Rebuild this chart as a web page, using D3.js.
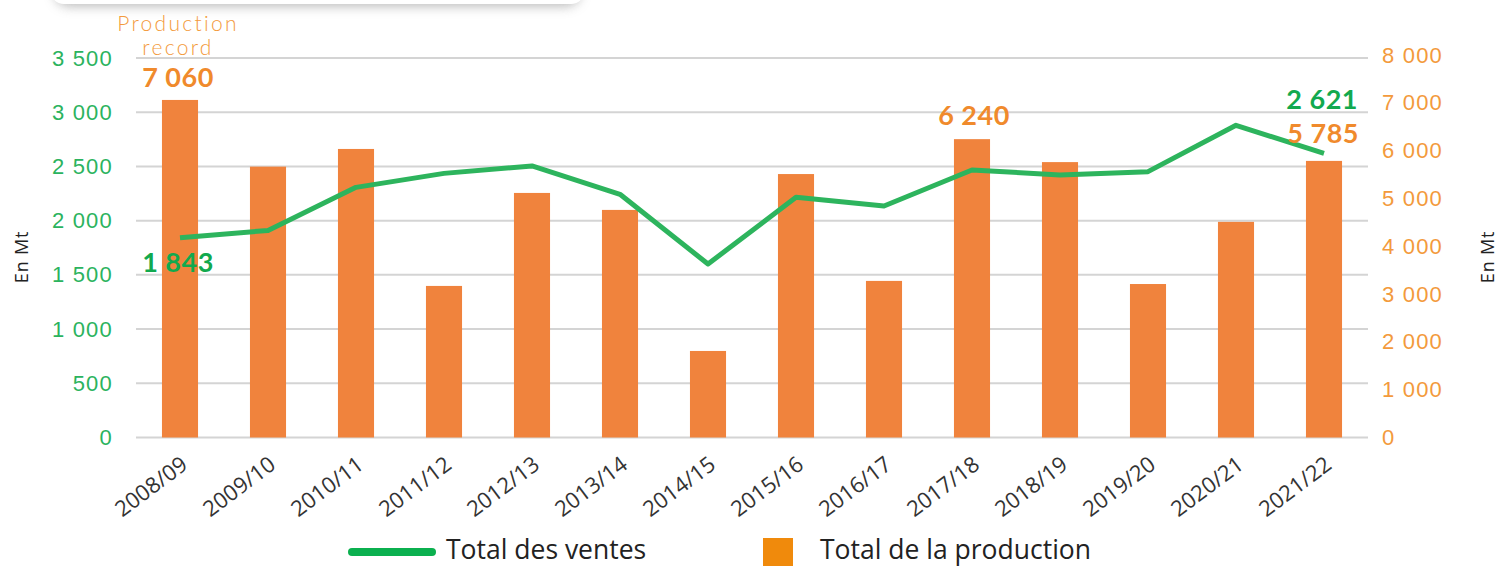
<!DOCTYPE html>
<html>
<head>
<meta charset="utf-8">
<script src="https://cdn.jsdelivr.net/npm/d3@7"></script>
<style>
  body { margin: 0; background: #fff; overflow: hidden; }
  svg { display: block; font-family: Lato, "Open Sans", sans-serif; }
</style>
</head>
<body>
<div id="chart"></div>
<script>
// données (en Mt)
const campagnes = ["2008/09", "2009/10", "2010/11", "2011/12", "2012/13", "2013/14", "2014/15",
  "2015/16", "2016/17", "2017/18", "2018/19", "2019/20", "2020/21", "2021/22"];
const production = [7060, 5665, 6035, 3170, 5115, 4760, 1810, 5510, 3275, 6240, 5760, 3210, 4510, 5785];
const ventes = [1843, 1910, 2307, 2436, 2504, 2243, 1600, 2215, 2135, 2467, 2421, 2452, 2879, 2621];
const ticksGauche = [0, 500, 1000, 1500, 2000, 2500, 3000, 3500];
const ticksDroite = [0, 1000, 2000, 3000, 4000, 5000, 6000, 7000, 8000];

const W = 1499, H = 566;
const vert = "#2bb35e", orange = "#f0833d", orangeTxt = "#f39a3c";
const fmt = v => d3.format(",")(v).replace(/,/g, " ");

const svg = d3.select("#chart").append("svg")
  .attr("width", W).attr("height", H);

// ombre de la boite en haut
const defs = svg.append("defs");
const f = defs.append("filter").attr("id", "ombre").attr("x", "-20%").attr("y", "-50%").attr("width", "140%").attr("height", "300%");
f.append("feGaussianBlur").attr("stdDeviation", 6);
svg.append("rect").attr("x", 55).attr("y", -40).attr("width", 525).attr("height", 46).attr("rx", 14)
  .attr("fill", "#999").attr("filter", "url(#ombre)").attr("opacity", 0.7);
svg.append("rect").attr("x", 50).attr("y", -40).attr("width", 535).attr("height", 44).attr("rx", 14)
  .attr("fill", "#fff");

const x = d3.scaleBand().domain(campagnes).range([136, 1368]).paddingInner(0.59).paddingOuter(0.295);
const yG = d3.scaleLinear().domain([0, 3500]).range([437.5, 58]);
const yD = d3.scaleLinear().domain([0, 8000]).range([437.5, 55]);

// grille
svg.append("g").selectAll("line").data(ticksGauche).join("line")
  .attr("x1", 136).attr("x2", 1368)
  .attr("y1", d => yG(d)).attr("y2", d => yG(d))
  .attr("stroke", "#d4d4d4").attr("stroke-width", 2);

// axe gauche
const axG = svg.append("g").attr("transform", "translate(123,0)")
  .call(d3.axisLeft(yG).tickValues(ticksGauche).tickSize(0).tickPadding(10).tickFormat(fmt));
axG.select(".domain").remove();
axG.selectAll("text").attr("fill", vert).attr("font-size", 22).attr("font-weight", 300)
  .attr("letter-spacing", 1.2);

// axe droit
const axD = svg.append("g").attr("transform", "translate(1372,0)")
  .call(d3.axisRight(yD).tickValues(ticksDroite).tickSize(0).tickPadding(10).tickFormat(fmt));
axD.select(".domain").remove();
axD.selectAll("text").attr("fill", orangeTxt).attr("font-size", 22).attr("font-weight", 300)
  .attr("letter-spacing", 1.2);

// axe des campagnes
const axX = svg.append("g").attr("transform", "translate(0,437.5)")
  .call(d3.axisBottom(x).tickSize(0).tickPadding(0));
axX.select(".domain").remove();
axX.selectAll("text")
  .attr("fill", "#333").attr("font-size", 22).attr("font-family", "'Open Sans', sans-serif")
  .attr("text-anchor", "end")
  .attr("y", 0).attr("dy", 0)
  .attr("transform", "translate(9,30) rotate(-37)");

// barres
svg.append("g").selectAll("rect").data(production).join("rect")
  .attr("x", (d, i) => x(campagnes[i]))
  .attr("width", x.bandwidth())
  .attr("y", d => yD(d))
  .attr("height", d => yD(0) - yD(d))
  .attr("fill", orange);

// courbe des ventes
const ligne = d3.line()
  .x((d, i) => x(campagnes[i]) + x.bandwidth() / 2)
  .y(d => yG(d));
svg.append("path").datum(ventes)
  .attr("d", ligne)
  .attr("fill", "none").attr("stroke", "#2db45d").attr("stroke-width", 5)
  .attr("stroke-linejoin", "round");

// titres des axes
svg.append("text").attr("transform", "translate(28,257) rotate(-90)")
  .attr("text-anchor", "middle").attr("font-size", 18).attr("letter-spacing", 0.8)
  .attr("font-family", "'Open Sans', sans-serif").attr("fill", "#222").text("En Mt");
svg.append("text").attr("transform", "translate(1494,257) rotate(-90)")
  .attr("text-anchor", "middle").attr("font-size", 18).attr("letter-spacing", 0.8)
  .attr("font-family", "'Open Sans', sans-serif").attr("fill", "#222").text("En Mt");

// annotations
const cx = i => x(campagnes[i]) + x.bandwidth() / 2;
svg.append("text").attr("x", cx(0) - 2).attr("y", 31).attr("text-anchor", "middle")
  .attr("font-size", 21).attr("font-weight", 300).attr("letter-spacing", 2.3)
  .attr("fill", orangeTxt).text("Production");
svg.append("text").attr("x", cx(0) - 2).attr("y", 55).attr("text-anchor", "middle")
  .attr("font-size", 21).attr("font-weight", 300).attr("letter-spacing", 2.3)
  .attr("fill", orangeTxt).text("record");
svg.append("g").attr("font-size", 27).attr("font-weight", 700).attr("letter-spacing", 0.5)
  .call(g => {
    g.append("text").attr("x", cx(0) - 2).attr("y", yD(production[0]) - 13).attr("text-anchor", "middle")
      .attr("fill", "#f08a2c").text(fmt(production[0]));
    g.append("text").attr("x", cx(0) - 2).attr("y", yG(ventes[0]) + 34).attr("text-anchor", "middle")
      .attr("fill", "#12a94e").text(fmt(ventes[0]));
    g.append("text").attr("x", cx(9) + 2).attr("y", yD(production[9]) - 14).attr("text-anchor", "middle")
      .attr("fill", "#f08a2c").text(fmt(production[9]));
    g.append("text").attr("x", 1358).attr("y", 109).attr("text-anchor", "end")
      .attr("fill", "#12a94e").text(fmt(ventes[13]));
    g.append("text").attr("x", 1359).attr("y", 143).attr("text-anchor", "end")
      .attr("fill", "#f08a2c").text(fmt(production[13]));
  });

// légende
const leg = svg.append("g").attr("font-family", "'Open Sans', sans-serif").attr("font-size", 26.5).attr("fill", "#222");
leg.append("line").attr("x1", 352).attr("x2", 432).attr("y1", 552).attr("y2", 552)
  .attr("stroke", "#0bb04f").attr("stroke-width", 8).attr("stroke-linecap", "round");
leg.append("text").attr("x", 446).attr("y", 559).text("Total des ventes");
leg.append("rect").attr("x", 763).attr("y", 538).attr("width", 30).attr("height", 28).attr("fill", "#f08a0c");
leg.append("text").attr("x", 820).attr("y", 559).text("Total de la production");
</script>
</body>
</html>
